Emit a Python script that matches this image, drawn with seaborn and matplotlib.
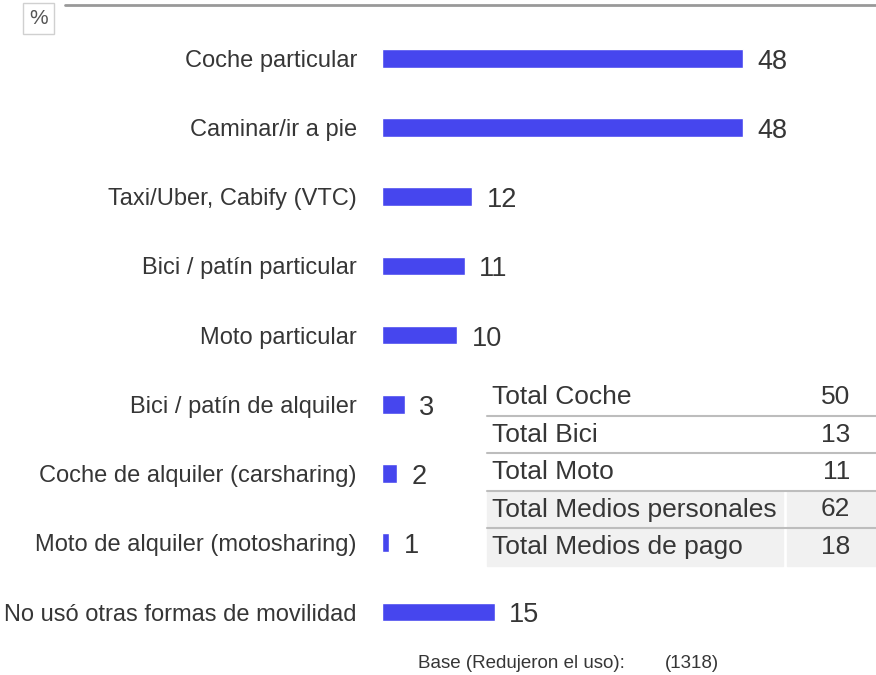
import matplotlib
matplotlib.use("Agg")
import matplotlib.pyplot as plt
import seaborn as sns
import pandas as pd

# Datos del gráfico
categorias = [
    "Coche particular",
    "Caminar/ir a pie",
    "Taxi/Uber, Cabify (VTC)",
    "Bici / patín particular",
    "Moto particular",
    "Bici / patín de alquiler",
    "Coche de alquiler (carsharing)",
    "Moto de alquiler (motosharing)",
    "No usó otras formas de movilidad",
]
valores = [48, 48, 12, 11, 10, 3, 2, 1, 15]

totales_etiquetas = [
    "Total Coche",
    "Total Bici",
    "Total Moto",
    "Total Medios personales",
    "Total Medios de pago",
]
totales_valores = [50, 13, 11, 62, 18]

base_texto = "Base (Redujeron el uso):"
base_valor = "(1318)"

sns.set_style("white")
plt.rcParams["font.family"] = ["Liberation Sans", "DejaVu Sans"]

df = pd.DataFrame({"categoria": categorias, "valor": valores})

fig = plt.figure(figsize=(8.76, 6.75), dpi=100)
ax = fig.add_axes([0.436, 0.042, 0.559, 0.923])
ax.patch.set_visible(False)

color_barra = "#4646ee"
color_texto = "#363636"

sns.barplot(data=df, x="valor", y="categoria", orient="h", color=color_barra,
            width=0.27, saturation=1, ax=ax)

ax.set_xlim(0, 65.1)
ax.set_ylim(8.5, -0.5)
ax.set_xlabel("")
ax.set_ylabel("")
ax.set_xticks([])
ax.tick_params(axis="y", length=0, pad=18, labelsize=17, labelcolor=color_texto)
for s in ax.spines.values():
    s.set_visible(False)

# Etiquetas de valor
for i, v in enumerate(valores):
    ax.text(v + 1.9, i + 0.05, str(v), va="center", ha="left",
            fontsize=19.5, color=color_texto)

# Linea superior y cuadro de %
fig.add_artist(plt.Line2D([65 / 876, 1.0], [1 - 5 / 675, 1 - 5 / 675], color="#999999", lw=2))
fig.text(38.5 / 876, 1 - 18.5 / 675, "%", ha="center", va="center", fontsize=15, color="#555555",
         bbox=dict(boxstyle="square,pad=0.3", fc="white", ec="#d0d0d0", lw=1))

# Tabla de totales
fila_y0 = 1 - 397 / 675
fila_h = 37.5 / 675
x_izq = 487 / 876
x_col = 787 / 876
for k, (etq, val) in enumerate(zip(totales_etiquetas, totales_valores)):
    yc = fila_y0 - k * fila_h
    if k >= 3:
        fig.add_artist(plt.Rectangle((x_izq, yc - fila_h / 2), x_col - x_izq - 0.004, fila_h,
                                     color="#f1f1f1", transform=fig.transFigure, zorder=0))
        fig.add_artist(plt.Rectangle((x_col, yc - fila_h / 2), 1 - x_col, fila_h,
                                     color="#f1f1f1", transform=fig.transFigure, zorder=0))
    if k < 4:
        fig.add_artist(plt.Line2D([x_izq, 1.0], [yc - fila_h / 2, yc - fila_h / 2],
                                  color="#bdbdbd", lw=1.5))
    fig.text(492 / 876, yc, etq, ha="left", va="center", fontsize=19, color=color_texto)
    fig.text(850 / 876, yc, str(val), ha="right", va="center", fontsize=19, color=color_texto)

# Base
fig.text(418 / 876, 1 - 664 / 675, base_texto, ha="left", va="center", fontsize=13.5,
         color=color_texto)
fig.text(665 / 876, 1 - 664 / 675, base_valor, ha="left", va="center", fontsize=13.5,
         color=color_texto)

fig.savefig("out.png", dpi=100, facecolor="white")
